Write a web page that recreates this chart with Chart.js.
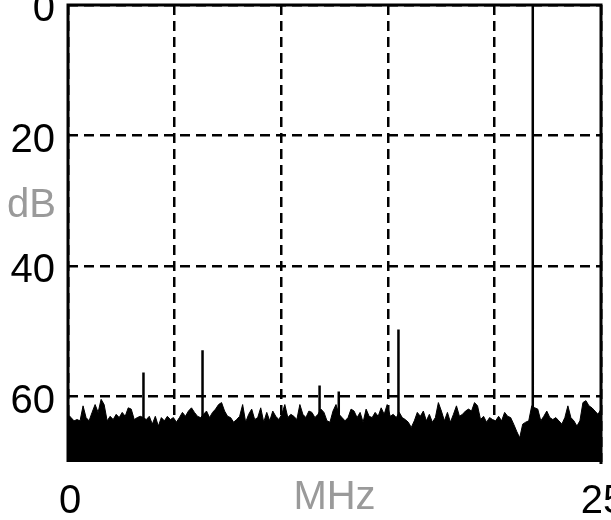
<!DOCTYPE html>
<html>
<head>
<meta charset="utf-8">
<script src="https://cdn.jsdelivr.net/npm/chart.js@4/dist/chart.umd.min.js"></script>
<style>
  html, body { margin: 0; padding: 0; background: #fff; }
</style>
</head>
<body>
<canvas id="espectro" width="611" height="520"></canvas>
<script>
const freqMin = 0, freqMax = 25;
const dbTop = 0, dbBottom = 70;
const xTicks = [0, 5, 10, 15, 20, 25];
const xTickLabels = ['0', '', '', '', '', '25'];
const yTicks = [0, 20, 40, 60];
const xUnit = 'MHz', yUnit = 'dB';

// upper edge of the noise floor, read left to right (dB)
const noiseDb = [
  62.7, 63.2, 63.7, 63.5, 63.7, 61.4, 63.2, 63.7, 62.4, 61.2, 62.4, 60.4, 61.2, 63.7, 63.0, 63.5, 62.7, 63.2, 62.4, 63.0, 61.7, 61.9, 63.5, 63.2, 63.0, 63.2, 63.5, 63.0,
  64.2, 63.0, 64.5, 63.2, 63.7, 63.0, 63.5, 63.2, 63.9, 63.2, 62.4, 63.0, 62.2, 61.7, 62.4, 63.0, 63.2, 62.7, 62.2, 63.2, 62.4, 61.9, 61.2, 60.9, 62.2, 63.0, 63.2, 63.9, 63.5, 63.0,
  61.2, 63.9, 62.7, 61.9, 63.5, 63.2, 61.7, 63.9, 62.4, 63.7, 62.2, 63.0, 63.5, 62.7, 61.2, 63.2, 62.7, 63.0, 63.5, 61.2, 62.7, 63.2, 62.2, 62.4, 63.2, 62.7, 61.9, 62.4, 63.7, 63.9,
  62.2, 61.2, 62.7, 63.2, 63.7, 63.2, 61.9, 62.2, 63.2, 62.4, 63.9, 61.9, 63.0, 63.2, 62.4, 63.0, 61.7, 62.7, 61.2, 63.0, 62.7, 63.2, 62.4, 63.2, 63.5, 63.9, 64.7, 63.7, 62.4, 63.0,
  62.2, 63.7, 62.7, 63.9, 63.2, 60.9, 62.2, 63.7, 62.4, 63.9, 62.7, 61.4, 63.0, 62.7, 62.2, 61.9, 62.2, 60.9, 61.4, 63.5, 63.0, 63.9, 63.2, 63.5, 63.7, 63.0, 63.7, 62.4, 63.0, 63.2,
  64.2, 65.3, 66.3, 64.2, 63.9, 63.7, 61.4, 61.7, 61.9, 63.7, 63.0, 62.2, 63.2, 63.5, 63.2, 63.7, 64.2, 63.2, 61.4, 63.2, 63.7, 64.5, 63.7, 60.9, 60.6, 61.4, 61.7, 62.2, 62.7, 61.9
];

// discrete tones above the floor
const spikeMHz = [3.54, 6.31, 11.8, 12.7, 15.5, 21.8];
const spikeDb = [56.3, 52.9, 58.3, 59.2, 49.7, 0];

const binStep = (freqMax - freqMin) / (noiseDb.length - 1);
const pontosRuido = noiseDb.map((db, i) => ({ x: freqMin + i * binStep, y: db }));

const pontosTons = [];
spikeMHz.forEach((f, i) => {
    pontosTons.push({ x: f, y: dbBottom }, { x: f, y: spikeDb[i] }, { x: f, y: null });
});

const fonteEixo = { family: 'Liberation Sans, Arial, sans-serif', size: 40 };

const moldura = {
    id: 'moldura',
    afterDatasetsDraw(chart) {
        const { ctx, chartArea: a } = chart;
        ctx.save();
        ctx.strokeStyle = '#000';
        ctx.lineWidth = 3;
        ctx.beginPath();
        ctx.moveTo(a.left, a.bottom);
        ctx.lineTo(a.left, a.top);
        ctx.lineTo(a.right, a.top);
        ctx.lineTo(a.right, a.bottom + 2);
        ctx.stroke();
        ctx.restore();
    },
    afterDraw(chart) {
        const { ctx, chartArea: a, scales } = chart;
        ctx.save();
        ctx.font = '40px ' + fonteEixo.family;
        ctx.fillStyle = '#9a9a9a';
        ctx.textAlign = 'right';
        ctx.textBaseline = 'middle';
        ctx.fillText(yUnit, a.left - 12, scales.y.getPixelForValue(30) + 5);
        ctx.textAlign = 'center';
        ctx.textBaseline = 'top';
        ctx.fillText(xUnit, scales.x.getPixelForValue(12.5), a.bottom + 16);
        ctx.restore();
    }
};

new Chart(document.getElementById('espectro'), {
    type: 'line',
    data: {
        datasets: [{
            data: pontosRuido,
            borderColor: '#000',
            backgroundColor: '#000',
            borderWidth: 1,
            pointRadius: 0,
            fill: { value: dbBottom }
        }, {
            data: pontosTons,
            borderColor: '#000',
            borderWidth: 2.5,
            pointRadius: 0,
            fill: false
        }]
    },
    options: {
        responsive: false,
        animation: false,
        layout: { padding: { top: 5, right: 10, left: 0, bottom: 0 } },
        plugins: { legend: { display: false }, tooltip: { enabled: false } },
        scales: {
            x: {
                type: 'linear',
                min: freqMin,
                max: freqMax,
                afterBuildTicks: s => { s.ticks = xTicks.map(v => ({ value: v })); },
                afterFit: s => { s.height = 58; s.paddingLeft = 0; s.paddingRight = 0; },
                ticks: {
                    autoSkip: false,
                    maxRotation: 0,
                    padding: 16,
                    labelOffset: 2,
                    color: '#000',
                    font: fonteEixo,
                    callback: (v, i) => xTickLabels[i]
                },
                grid: { color: '#000', lineWidth: 2.5, drawTicks: false },
                border: { display: false, dash: [10, 6] }
            },
            y: {
                type: 'linear',
                reverse: true,
                min: dbTop,
                max: dbBottom,
                afterBuildTicks: s => { s.ticks = yTicks.map(v => ({ value: v })); },
                afterFit: s => { s.width = 68; s.paddingTop = 0; s.paddingBottom = 0; },
                ticks: {
                    padding: 13,
                    labelOffset: 5,
                    color: '#000',
                    font: fonteEixo
                },
                grid: { color: '#000', lineWidth: 2.5, drawTicks: false },
                border: { display: false, dash: [10, 6] }
            }
        }
    },
    plugins: [moldura]
});
</script>
</body>
</html>
